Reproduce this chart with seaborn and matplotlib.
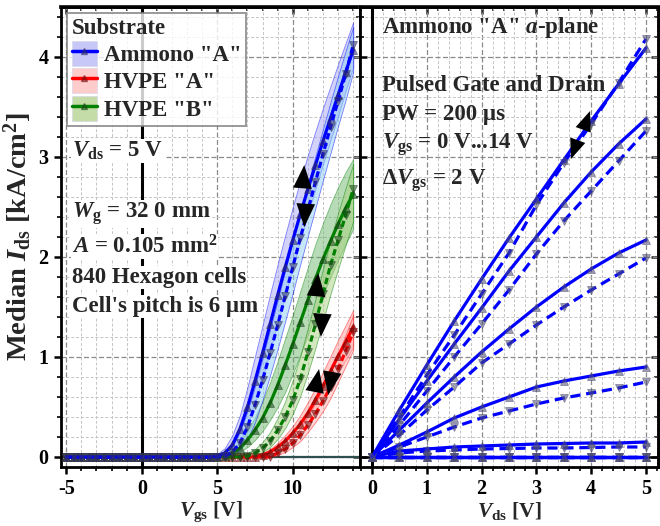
import numpy as np
import pandas as pd
import matplotlib
matplotlib.use("Agg")
import matplotlib.pyplot as plt
import seaborn as sns
from matplotlib.patches import Patch
from matplotlib.lines import Line2D
from matplotlib.ticker import MultipleLocator, NullFormatter

# ---------------- transfer characteristics (left panel) ----------------
vgs_off = [-5.0, -4.5, -4.0, -3.5, -3.0, -2.5, -2.0, -1.5, -1.0, -0.5,
           0.0, 0.5, 1.0, 1.5, 2.0, 2.5, 3.0, 3.5, 4.0, 4.5]
vgs_on = [5.0, 5.5, 6.0, 6.5, 7.0, 7.5, 8.0, 8.5, 9.0, 9.5,
          10.0, 10.5, 11.0, 11.5, 12.0, 12.5, 13.0, 13.5, 14.0]
ids_off = [0.0] * len(vgs_off)

# Ammono "A"
amm_up = [0.01, 0.04, 0.12, 0.28, 0.50, 0.76, 1.04, 1.33, 1.62, 1.90,
          2.17, 2.43, 2.68, 2.92, 3.16, 3.39, 3.62, 3.85, 4.07]
amm_up_lo = [0.00, 0.01, 0.05, 0.15, 0.32, 0.54, 0.79, 1.06, 1.34, 1.62,
             1.90, 2.17, 2.43, 2.68, 2.93, 3.17, 3.41, 3.66, 3.90]
amm_up_hi = [0.03, 0.09, 0.22, 0.42, 0.70, 1.01, 1.32, 1.63, 1.93, 2.22,
             2.50, 2.77, 3.02, 3.26, 3.49, 3.71, 3.93, 4.14, 4.35]
amm_dn = [0.00, 0.01, 0.05, 0.14, 0.30, 0.52, 0.77, 1.04, 1.32, 1.61,
          1.90, 2.19, 2.47, 2.75, 3.03, 3.30, 3.56, 3.83, 4.12]
amm_dn_lo = [0.00, 0.00, 0.02, 0.07, 0.18, 0.35, 0.57, 0.82, 1.08, 1.36,
             1.64, 1.93, 2.21, 2.49, 2.77, 3.04, 3.31, 3.57, 3.85]
amm_dn_hi = [0.01, 0.04, 0.11, 0.25, 0.46, 0.71, 0.99, 1.28, 1.57, 1.87,
             2.16, 2.45, 2.73, 3.01, 3.28, 3.55, 3.81, 4.06, 4.30]

# HVPE "A"
hva_up = [0.0, 0.0, 0.0, 0.0, 0.0, 0.0, 0.02, 0.05, 0.10, 0.16,
          0.24, 0.33, 0.44, 0.57, 0.71, 0.86, 1.01, 1.15, 1.30]
hva_up_lo = [0.0, 0.0, 0.0, 0.0, 0.0, 0.0, 0.01, 0.03, 0.07, 0.12,
             0.18, 0.26, 0.35, 0.46, 0.58, 0.71, 0.84, 0.97, 1.10]
hva_up_hi = [0.0, 0.0, 0.0, 0.0, 0.0, 0.01, 0.04, 0.08, 0.14, 0.22,
             0.31, 0.42, 0.55, 0.69, 0.85, 1.01, 1.17, 1.32, 1.47]
hva_dn = [0.0, 0.0, 0.0, 0.0, 0.0, 0.0, 0.0, 0.0, 0.04, 0.08,
          0.14, 0.22, 0.32, 0.43, 0.56, 0.70, 0.88, 1.06, 1.25]
hva_dn_lo = [0.0, 0.0, 0.0, 0.0, 0.0, 0.0, 0.0, 0.0, 0.02, 0.05,
             0.10, 0.16, 0.25, 0.35, 0.46, 0.59, 0.75, 0.91, 1.07]
hva_dn_hi = [0.0, 0.0, 0.0, 0.0, 0.0, 0.0, 0.0, 0.01, 0.06, 0.12,
             0.19, 0.29, 0.41, 0.54, 0.69, 0.84, 1.03, 1.22, 1.42]

# HVPE "B"
hvb_up = [0.0, 0.01, 0.04, 0.09, 0.17, 0.27, 0.39, 0.54, 0.72, 0.92,
          1.13, 1.35, 1.57, 1.78, 1.98, 2.16, 2.33, 2.49, 2.63]
hvb_up_lo = [0.0, 0.0, 0.02, 0.05, 0.10, 0.17, 0.26, 0.37, 0.50, 0.65,
             0.83, 1.02, 1.22, 1.42, 1.62, 1.80, 1.97, 2.13, 2.28]
hvb_up_hi = [0.01, 0.03, 0.08, 0.15, 0.26, 0.40, 0.56, 0.75, 0.96, 1.19,
             1.42, 1.66, 1.90, 2.13, 2.34, 2.53, 2.70, 2.85, 2.98]
hvb_dn = [0.0, 0.0, 0.0, 0.0, 0.01, 0.04, 0.09, 0.16, 0.27, 0.40,
          0.57, 0.78, 1.05, 1.33, 1.63, 1.92, 2.17, 2.42, 2.68]
hvb_dn_lo = [0.0, 0.0, 0.0, 0.0, 0.0, 0.02, 0.05, 0.10, 0.18, 0.29,
             0.43, 0.61, 0.84, 1.09, 1.36, 1.63, 1.88, 2.12, 2.36]
hvb_dn_hi = [0.0, 0.0, 0.01, 0.02, 0.04, 0.08, 0.15, 0.25, 0.39, 0.56,
             0.77, 1.01, 1.29, 1.58, 1.88, 2.17, 2.44, 2.69, 2.93]

substrates = ['Ammono "A"', 'HVPE "A"', 'HVPE "B"']

# ---------------- output characteristics (right panel) ----------------
vds = [0.0, 0.5, 1.0, 1.5, 2.0, 2.5, 3.0, 3.5, 4.0, 4.5, 5.0]
vgs_steps = [0, 2, 4, 6, 8, 10, 12, 14]
out_up_0 = [0.0] * 11
out_dn_0 = [0.0] * 11
out_up_2 = [0.0] * 11
out_dn_2 = [0.0] * 11
out_up_4 = [0.0] * 11
out_dn_4 = [0.0] * 11
out_up_6 = [0.0, 0.06, 0.08, 0.10, 0.11, 0.12, 0.13, 0.135, 0.14, 0.14, 0.15]
out_dn_6 = [0.0, 0.04, 0.06, 0.07, 0.08, 0.085, 0.09, 0.09, 0.095, 0.10, 0.10]
out_up_8 = [0.0, 0.12, 0.25, 0.39, 0.50, 0.60, 0.70, 0.76, 0.81, 0.86, 0.90]
out_dn_8 = [0.0, 0.10, 0.20, 0.30, 0.39, 0.46, 0.53, 0.59, 0.64, 0.69, 0.75]
out_up_10 = [0.0, 0.27, 0.54, 0.80, 1.05, 1.28, 1.50, 1.70, 1.88, 2.04, 2.17]
out_dn_10 = [0.0, 0.22, 0.47, 0.70, 0.94, 1.13, 1.32, 1.50, 1.67, 1.83, 1.99]
out_up_12 = [0.0, 0.38, 0.76, 1.13, 1.49, 1.86, 2.20, 2.54, 2.85, 3.13, 3.38]
out_dn_12 = [0.0, 0.32, 0.66, 1.00, 1.33, 1.67, 2.03, 2.36, 2.66, 2.96, 3.26]
out_up_14 = [0.0, 0.47, 0.92, 1.36, 1.78, 2.19, 2.58, 2.97, 3.36, 3.73, 4.09]
out_dn_14 = [0.0, 0.40, 0.82, 1.22, 1.63, 2.04, 2.52, 2.94, 3.33, 3.74, 4.18]

# ---------------- styling ----------------
sns.set_theme(style="white")
plt.rcParams["font.family"] = ["Liberation Serif", "DejaVu Serif"]
plt.rcParams["font.weight"] = "bold"
plt.rcParams["axes.labelweight"] = "bold"
plt.rcParams["axes.unicode_minus"] = False
plt.rcParams["mathtext.fontset"] = "custom"
plt.rcParams["mathtext.rm"] = "Liberation Serif:bold"
plt.rcParams["mathtext.it"] = "Liberation Serif:italic:bold"
plt.rcParams["mathtext.bf"] = "Liberation Serif:bold"
plt.rcParams["axes.linewidth"] = 2.0

TXT = 16.5
TICK = 14.5
LAB = 15.5
YLAB = 20.5

line_col = {'Ammono "A"': "#0000ff", 'HVPE "A"': "#ff0000", 'HVPE "B"': "#008000"}
mark_col = {'Ammono "A"': (0.18, 0.18, 0.40, 0.55),
            'HVPE "A"': (0.45, 0.05, 0.05, 0.55),
            'HVPE "B"': (0.10, 0.28, 0.10, 0.55)}
band_up_col = {'Ammono "A"': "#9d9df5", 'HVPE "A"': "#ff8f8f", 'HVPE "B"': "#5fb05f"}
band_dn_col = {'Ammono "A"': "#8fd0f5", 'HVPE "A"': "#ffb0b0", 'HVPE "B"': "#a9d27e"}
legend_patch = {'Ammono "A"': "#c8c8f8", 'HVPE "A"': "#ffcccc", 'HVPE "B"': "#c4dca8"}

curves = {
    'Ammono "A"': (amm_up, amm_up_lo, amm_up_hi, amm_dn, amm_dn_lo, amm_dn_hi),
    'HVPE "A"': (hva_up, hva_up_lo, hva_up_hi, hva_dn, hva_dn_lo, hva_dn_hi),
    'HVPE "B"': (hvb_up, hvb_up_lo, hvb_up_hi, hvb_dn, hvb_dn_lo, hvb_dn_hi),
}

rows = []
for sub, (up, _, _, dn, _, _) in curves.items():
    for v, i in zip(vgs_off + vgs_on, ids_off + up):
        rows.append((v, i, sub, "up"))
    for v, i in zip(vgs_off + vgs_on, ids_off + dn):
        rows.append((v, i, sub, "down"))
transfer = pd.DataFrame(rows, columns=["Vgs", "Ids", "substrate", "sweep"])

fig = plt.figure(figsize=(6.6, 5.26), dpi=100)
axL = fig.add_axes([61 / 660, 59 / 526, 299 / 660, 460 / 526])
axR = fig.add_axes([360 / 660, 59 / 526, 298 / 660, 460 / 526])

DASH_L = (0, (2.0, 1.1))
DASH_R = (0, (3.2, 1.8))
NOTE_BOX = dict(facecolor="white", edgecolor="none", pad=0.5)


def style_grid(ax, xminor):
    ax.xaxis.set_minor_locator(MultipleLocator(xminor))
    ax.yaxis.set_minor_locator(MultipleLocator(0.2))
    ax.yaxis.set_major_locator(MultipleLocator(1))
    ax.grid(which="minor", color="#c4c4c4", lw=0.7, ls=(0, (3, 2)))
    ax.grid(which="major", color="#8a8a8a", lw=0.9, ls=(0, (4, 2)))
    ax.set_axisbelow(True)
    for s in ax.spines.values():
        s.set_color("black")
        s.set_linewidth(2.0)
    ax.tick_params(which="major", direction="out", length=5, width=1.8,
                   labelsize=TICK, pad=4, colors="black")
    ax.tick_params(which="minor", direction="out", length=3, width=1.2,
                   colors="black")
    ax.tick_params(axis="both", which="both", bottom=True, left=True)
    top = ax.secondary_xaxis("top")
    top.xaxis.set_major_locator(ax.xaxis.get_major_locator())
    top.xaxis.set_minor_locator(MultipleLocator(xminor))
    top.xaxis.set_major_formatter(NullFormatter())
    top.tick_params(which="major", direction="in", length=5, width=1.8)
    top.tick_params(which="minor", direction="in", length=3, width=1.2)
    top.spines["top"].set_linewidth(2.8)
    right = ax.secondary_yaxis("right")
    right.yaxis.set_major_locator(MultipleLocator(1))
    right.yaxis.set_minor_locator(MultipleLocator(0.2))
    right.yaxis.set_major_formatter(NullFormatter())
    right.tick_params(which="major", direction="in", length=5, width=1.8)
    right.tick_params(which="minor", direction="in", length=3, width=1.2)


def arrow_head(ax, tip, tail, scale=21):
    ax.annotate("", xy=tip, xytext=tail, zorder=8,
                arrowprops=dict(arrowstyle="-|>,head_length=0.8,head_width=0.32",
                                color="black", lw=0, shrinkA=0, shrinkB=0,
                                mutation_scale=scale))


# ---------------- left panel ----------------
axL.set_xlim(-5.35, 14.45)
axL.set_ylim(-0.1, 4.5)
axL.xaxis.set_major_locator(MultipleLocator(5))
style_grid(axL, 1)
axL.axvline(0, color="black", lw=2.2, zorder=1.5)
axL.axhline(0, color="#2f4f4f", lw=1.6, zorder=1.5)

for sub in ['HVPE "A"', 'HVPE "B"', 'Ammono "A"']:
    up, up_lo, up_hi, dn, dn_lo, dn_hi = curves[sub]
    axL.fill_between(vgs_on, up_lo, up_hi, facecolor=band_up_col[sub], alpha=0.45,
                     edgecolor=line_col[sub], lw=0.6, zorder=2)
    axL.fill_between(vgs_on, dn_lo, dn_hi, facecolor=band_dn_col[sub], alpha=0.5,
                     edgecolor=line_col[sub], lw=0.6, zorder=2)

for sub in ['HVPE "A"', 'HVPE "B"', 'Ammono "A"']:
    for sweep, mk, ls in (("up", "^", "-"), ("down", "v", DASH_L)):
        d = transfer[(transfer.substrate == sub) & (transfer.sweep == sweep)]
        sns.lineplot(data=d, x="Vgs", y="Ids", ax=axL, color=line_col[sub],
                     lw=2.3, linestyle=ls, marker=mk, markersize=5.5,
                     markerfacecolor=mark_col[sub], markeredgecolor=mark_col[sub],
                     markeredgewidth=0.6, zorder=4, legend=False)

# sweep direction
arrow_head(axL, (10.76, 2.92), (10.62, 2.64))
arrow_head(axL, (10.76, 2.30), (10.88, 2.58))
arrow_head(axL, (11.68, 1.84), (11.52, 1.58))
arrow_head(axL, (11.86, 1.20), (11.98, 1.48))
arrow_head(axL, (11.74, 0.88), (11.48, 0.68))
arrow_head(axL, (12.34, 0.62), (12.60, 0.84))

axL.set_xlabel(r"$V_{\mathrm{gs}}$ [V]", fontsize=LAB, labelpad=0)
axL.set_ylabel(r"Median $I_{\mathrm{ds}}$ [kA/cm$^2$]", fontsize=YLAB, labelpad=3)

handles = []
for sub in substrates:
    handles.append((Patch(facecolor=legend_patch[sub], edgecolor="#d8d8e8", lw=0.5),
                    Line2D([], [], color=line_col[sub], lw=2.5, marker="^",
                           markersize=5, markerfacecolor=mark_col[sub],
                           markeredgecolor=mark_col[sub])))
leg = axL.legend(handles, substrates, title="Substrate", loc="upper left",
                 bbox_to_anchor=(0.02, 0.987), borderaxespad=0, fontsize=TXT,
                 title_fontsize=TXT, frameon=True, fancybox=False,
                 handlelength=1.1, handleheight=1.3, handletextpad=0.3,
                 labelspacing=0.1, borderpad=0.2, alignment="left")
leg.get_frame().set_edgecolor("#808080")
leg.get_frame().set_linewidth(1.4)
leg.get_title().set_fontweight("bold")
leg.set_zorder(10)

left_notes = [
    (0.674, r"$V_{\mathrm{ds}}$ = 5 V"),
    (0.541, r"$W_{\mathrm{g}}$ = 32 0 mm"),
    (0.465, r"$A$ = 0.105 mm$^2$"),
    (0.400, "840 Hexagon cells"),
    (0.337, "Cell's pitch is 6 µm"),
]
for y, s in left_notes:
    axL.text(0.037, y, s, transform=axL.transAxes, fontsize=TXT,
             va="baseline", ha="left", zorder=9, bbox=NOTE_BOX)

# ---------------- right panel ----------------
axR.set_xlim(-0.22, 5.22)
axR.set_ylim(-0.1, 4.5)
axR.xaxis.set_major_locator(MultipleLocator(1))
style_grid(axR, 0.2)
axR.tick_params(axis="y", which="both", labelleft=False, direction="in")
axR.axvline(0, color="black", lw=2.2, zorder=1.5)
axR.axhline(0, color="black", lw=1.8, zorder=1.5)

out_up = [out_up_0, out_up_2, out_up_4, out_up_6, out_up_8, out_up_10, out_up_12, out_up_14]
out_dn = [out_dn_0, out_dn_2, out_dn_4, out_dn_6, out_dn_8, out_dn_10, out_dn_12, out_dn_14]
out_mark = (0.30, 0.30, 0.45, 0.55)
for vg, up, dn in zip(vgs_steps, out_up, out_dn):
    sns.lineplot(x=vds, y=dn, ax=axR, color="#0000ff", lw=2.3, linestyle=DASH_R,
                 marker="v", markersize=5.5, markerfacecolor=out_mark,
                 markeredgecolor=out_mark, markeredgewidth=0.6, zorder=4)
    sns.lineplot(x=vds, y=up, ax=axR, color="#0000ff", lw=2.3, linestyle="-",
                 marker="^", markersize=5.5, markerfacecolor=out_mark,
                 markeredgecolor=out_mark, markeredgewidth=0.6, zorder=4)

arrow_head(axR, (3.98, 3.46), (3.84, 3.25), scale=18)
arrow_head(axR, (3.63, 2.98), (3.77, 3.19), scale=18)

axR.set_xlabel(r"$V_{\mathrm{ds}}$ [V]", fontsize=LAB, labelpad=0)
axR.set_ylabel("")

right_notes = [
    (0.943, 'Ammono "A" $a$-plane'),
    (0.817, "Pulsed Gate and Drain"),
    (0.754, "PW = 200 µs"),
    (0.693, r"$V_{\mathrm{gs}}$ = 0 V...14 V"),
    (0.613, r"$\Delta V_{\mathrm{gs}}$ = 2 V"),
]
for y, s in right_notes:
    axR.text(0.074, y, s, transform=axR.transAxes, fontsize=TXT,
             va="baseline", ha="left", zorder=9)

fig.savefig("out.png", dpi=100)
